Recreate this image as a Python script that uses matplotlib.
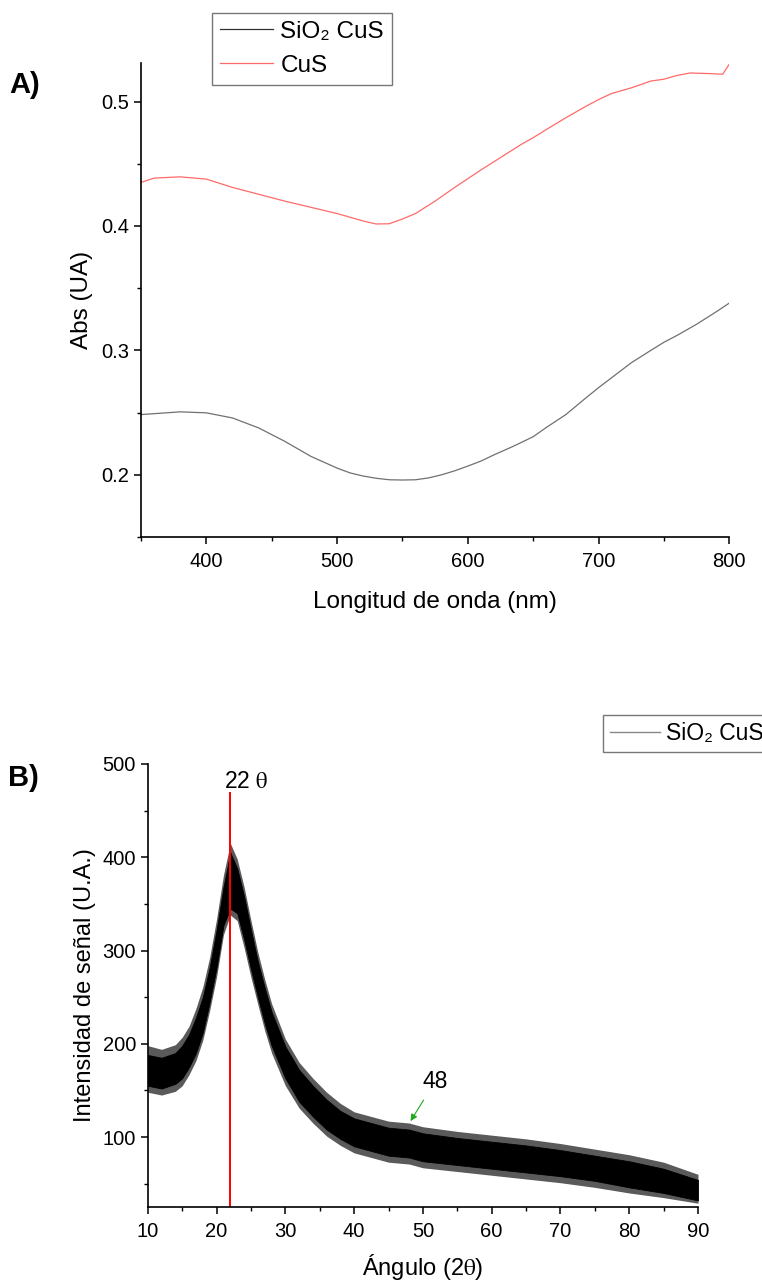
import numpy as np
import matplotlib
matplotlib.use("Agg")
import matplotlib.pyplot as plt
from matplotlib.ticker import MultipleLocator

plt.rcParams['font.family'] = ['Liberation Sans', 'DejaVu Sans']
plt.rcParams['mathtext.fontset'] = 'stix'

# --- Panel A: UV-Vis absorbance ---
wl_cus = [350, 360, 380, 400, 420, 440, 460, 480, 500, 510, 520, 530, 540, 550,
          560, 575, 590, 600, 610, 625, 640, 650, 660, 675, 690, 700, 710, 725,
          740, 750, 760, 770, 785, 795, 800]
abs_cus = [0.435, 0.4385, 0.4395, 0.4377, 0.431, 0.4255, 0.420, 0.415, 0.410,
           0.407, 0.404, 0.4016, 0.4018, 0.4056, 0.410, 0.420, 0.431, 0.438,
           0.445, 0.455, 0.465, 0.471, 0.4775, 0.487, 0.496, 0.5016, 0.5065,
           0.511, 0.5165, 0.518, 0.521, 0.523, 0.5225, 0.522, 0.530]

wl_sio2 = [350, 380, 400, 420, 440, 460, 480, 500, 510, 520, 530, 540, 550, 560,
           570, 580, 590, 600, 610, 620, 635, 650, 660, 675, 690, 700, 710, 725,
           740, 750, 760, 775, 790, 800]
abs_sio2 = [0.2484, 0.2506, 0.2498, 0.2457, 0.2377, 0.2269, 0.2148, 0.2054,
            0.2015, 0.199, 0.1972, 0.196, 0.1958, 0.196, 0.1975, 0.200, 0.2032,
            0.207, 0.211, 0.216, 0.223, 0.2306, 0.238, 0.2484, 0.2615, 0.270,
            0.278, 0.290, 0.300, 0.3065, 0.312, 0.321, 0.331, 0.338]

# --- Panel B: XRD band (read envelopes of the noisy trace) ---
ang = [10, 12, 14, 15, 16, 17, 18, 19, 20, 21, 22, 23, 24, 25, 26, 27, 28, 30,
       32, 34, 36, 38, 40, 45, 48, 50, 55, 60, 65, 70, 75, 80, 85, 90]
core_lo = [155, 152, 157, 163, 175, 190, 212, 245, 282, 327, 345, 340, 312, 280,
           250, 222, 198, 163, 138, 122, 108, 98, 90, 80, 78, 74, 70, 66, 62, 58,
           53, 46, 40, 32]
core_hi = [188, 185, 190, 198, 210, 228, 250, 282, 322, 368, 405, 388, 358, 322,
           288, 260, 234, 197, 172, 155, 140, 128, 120, 110, 108, 104, 99, 95, 91,
           86, 80, 74, 66, 54]
spike_lo = [148, 145, 149, 155, 167, 182, 204, 236, 272, 317, 338, 332, 303, 271,
            242, 214, 190, 155, 131, 115, 101, 91, 83, 73, 71, 67, 63, 59, 55, 51,
            46, 40, 35, 29]
spike_hi = [198, 194, 199, 207, 219, 238, 261, 293, 334, 381, 415, 398, 368, 332,
            298, 269, 243, 205, 180, 163, 148, 136, 127, 117, 115, 111, 106, 102,
            98, 93, 87, 81, 73, 60]
ref_angle = 22
ref_top = 470

fig = plt.figure(figsize=(7.62, 12.81), dpi=100)

# Panel A
axA = fig.add_axes([0.185, 0.5808, 0.772, 0.370])
l1, = axA.plot(wl_sio2, abs_sio2, color='#707070', lw=0.9)
l2, = axA.plot(wl_cus, abs_cus, color='#ff6a6a', lw=0.9)
axA.set_xlim(350, 800)
axA.set_ylim(0.15, 0.531)
axA.xaxis.set_major_locator(MultipleLocator(100))
axA.xaxis.set_minor_locator(MultipleLocator(50))
axA.yaxis.set_major_locator(MultipleLocator(0.1))
axA.yaxis.set_minor_locator(MultipleLocator(0.05))
axA.set_xlabel('Longitud de onda (nm)', fontsize=17.5, labelpad=14)
axA.set_ylabel('Abs (UA)', fontsize=17.5, labelpad=6)

leg = fig.legend([l1, l2], ['SiO₂ CuS', 'CuS'], loc='upper left',
                 bbox_to_anchor=(0.278, 0.990), fontsize=17.5, frameon=True,
                 fancybox=False, handlelength=2.2, borderpad=0.32,
                 labelspacing=0.5, handletextpad=0.3, borderaxespad=0)
leg.get_frame().set_edgecolor('#555555')
leg.get_lines()[0].set_color('#333333')
fig.text(0.012, 0.934, 'A)', fontsize=21, fontweight='bold', va='center')

# Panel B
axB = fig.add_axes([0.194, 0.0578, 0.722, 0.3458])
axB.fill_between(ang, spike_lo, spike_hi, color='#5a5a5a', lw=0)
axB.fill_between(ang, core_lo, core_hi, color='black', lw=0.6)
axB.vlines(ref_angle, 25, ref_top, color='red', lw=1.4)
axB.set_xlim(10, 90)
axB.set_ylim(25, 500)
axB.xaxis.set_major_locator(MultipleLocator(10))
axB.xaxis.set_minor_locator(MultipleLocator(5))
axB.yaxis.set_major_locator(MultipleLocator(100))
axB.yaxis.set_minor_locator(MultipleLocator(50))
axB.set_xlabel(r'Ángulo (2$\mathrm{\theta}$)', fontsize=17, labelpad=8)
axB.set_ylabel('Intensidad de señal (U.A.)', fontsize=17, labelpad=5)
axB.text(24.3, 481, r'22 $\mathrm{\theta}$', fontsize=16.5, ha='center', va='center')
axB.annotate('48', xy=(48.2, 117), xytext=(51.8, 160), fontsize=16.5,
             ha='center', va='center',
             arrowprops=dict(arrowstyle='-|>', color='#22aa22', lw=0.8,
                             mutation_scale=10, shrinkA=4, shrinkB=0))

lB, = axB.plot([], [], color='#555555', lw=1)
legB = fig.legend([lB], ['SiO₂ CuS'], loc='upper left',
                  bbox_to_anchor=(0.791, 0.442), fontsize=16.5, frameon=True,
                  fancybox=False, handlelength=2.2, borderpad=0.3,
                  handletextpad=0.25, borderaxespad=0)
legB.get_frame().set_edgecolor('#555555')
legB.get_lines()[0].set_color('#888888')
fig.text(0.010, 0.393, 'B)', fontsize=21, fontweight='bold', va='center')

for ax in (axA, axB):
    ax.spines['top'].set_visible(False)
    ax.spines['right'].set_visible(False)
    ax.spines['left'].set_linewidth(1.2)
    ax.spines['bottom'].set_linewidth(1.2)
    ax.tick_params(which='major', direction='out', length=5, width=1.1,
                   labelsize=14.5, colors='black')
    ax.tick_params(which='minor', direction='out', length=3, width=1.0)
    ax.tick_params(axis='x', pad=6)

fig.savefig('out.png', dpi=100)
